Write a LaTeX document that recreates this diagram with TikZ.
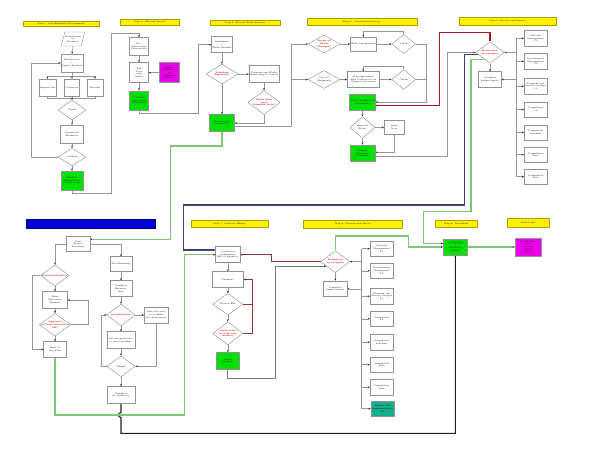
\documentclass[tikz,border=0pt]{standalone}
\usetikzlibrary{shapes.geometric,arrows.meta,calc}
\pgfdeclarelayer{bg}
\pgfsetlayers{bg,main}
\definecolor{gfill}{RGB}{0,225,0}
\definecolor{mfill}{RGB}{235,0,235}
\definecolor{tfill}{RGB}{20,175,140}
\definecolor{yfill}{RGB}{255,240,0}
\definecolor{ydraw}{RGB}{170,160,0}
\definecolor{bbar}{RGB}{0,0,210}
\definecolor{redl}{RGB}{165,20,35}
\definecolor{brl}{RGB}{140,55,50}
\definecolor{dbl}{RGB}{65,65,115}
\definecolor{gbl}{RGB}{120,120,150}
\definecolor{grl}{RGB}{125,200,120}
\definecolor{blk}{RGB}{35,35,35}
\definecolor{bdr}{RGB}{145,145,145}
\definecolor{lnc}{RGB}{150,150,150}
\definecolor{rtx}{RGB}{190,0,0}
\tikzset{
  ln/.style={draw=lnc, line width=0.55pt},
  arr/.style={ln, -{Stealth[length=2.2pt,width=1.8pt,color=blk]}},
  tx/.style={font=\fontsize{2.2}{2.6}\selectfont, align=center, inner sep=0.4pt},
  rtxt/.style={tx, text=rtx, font=\fontsize{2.2}{2.6}\selectfont\bfseries},
  bx/.style={tx, rectangle, draw=bdr, fill=white, line width=0.45pt},
  gbx/.style={bx, fill=gfill},
  dmd/.style={diamond, draw=bdr, fill=white, line width=0.45pt, inner sep=0pt},
  lab/.style={tx, rectangle, draw=ydraw, fill=yfill, line width=0.4pt},
  sz/.style 2 args={minimum width=#1pt, minimum height=#2pt},
  cl/.style={arr, line width=1.1pt},
}
\newcommand{\Dnode}[6]{\node[dmd, sz={#3}{#4}] (#1) at (#2) {}; \node[#5] (#1t) at (#1.center) {#6};}
\begin{document}
\begin{tikzpicture}[x=1pt,y=-1pt]
\useasboundingbox (0,0) rectangle (600,452);

% ---------------- Step 1
\node[lab, sz={76}{5.5}] (s1) at (61,23.5) {Step 1: Cost Estimate Development};
\node[tx, trapezium, trapezium left angle=65, trapezium right angle=115, trapezium stretches=true, draw=bdr, fill=white, line width=0.45pt, sz={22}{14}] (p1) at (73,39) {Information\\in\\Database};
\node[bx, sz={21}{18}] (b1) at (72,63) {Information\\+\\Report Analysis};
\node[bx, sz={17}{17}] (b1a) at (47.5,87.5) {Inspections};
\node[bx, sz={15}{17}] (b1b) at (72,87.5) {Contracts};
\node[bx, sz={16}{17}] (b1c) at (95,87.5) {Records};
\Dnode{d1}{72,110}{28}{20}{tx}{Check}
\node[bx, sz={23}{18}] (b1d) at (72,134) {Formulate\\Estimates};
\Dnode{d1b}{72,157}{28}{18}{tx}{Confirm}
\node[gbx, sz={22}{19}] (g1) at (72,180.5) {Finalize\\Estimate of\\Project Costs};

% ---------------- Step 2
\node[lab, sz={59}{6}] (s2) at (149.5,22.3) {Step 2: Bid and Award};
\node[bx, sz={19}{18}] (b2a) at (139,46.5) {Pre-\\Advertising\\Preparation};
\node[bx, sz={19}{20}] (b2b) at (139,72.7) {Bid\\Price\\and\\Award};
\node[bx, fill=mfill, sz={20}{20}] (m2) at (169,72.7) {Bidder\\Qualification\\and\\Compliance\\Review};
\node[gbx, sz={19}{19}] (g2) at (139,100.3) {Contract\\Award and\\NTP Issued};

% ---------------- Step 3
\node[lab, sz={70}{5.5}] (s3) at (245,22.7) {Step 3: Review Work Analysis};
\node[bx, sz={21}{16}] (b3a) at (222,44.7) {Agreement\\+\\Work Schedule};
\Dnode{d3a}{222,74}{32}{20}{rtxt}{Schedule\\Approved?}
\node[bx, sz={27}{17}] (b3b) at (264,74) {Construction Works\\Monitoring \& Control};
\Dnode{d3b}{264,102.5}{32}{24}{rtxt}{Work done\\per\\Schedule Date?}
\node[gbx, sz={25}{17}] (g3) at (222,123) {Construction\\Completed};

% ---------------- Step 4
\node[lab, sz={110}{7}] (s4) at (361.7,22) {Step 4: Construction Survey};
\Dnode{d4a}{324,44}{32}{18}{rtxt}{Scope of\\Work\\Changed?}
\node[bx, sz={23}{14}] (b4a) at (363.3,44) {Work Arrangement};
\Dnode{d4a2}{403.7,44}{24}{19}{tx}{Check}
\Dnode{d4b}{324,79.5}{32}{18}{rtxt}{Use of\\Materials}
\node[bx, sz={32}{15.6}] (b4b) at (363.3,79.5) {Plan Agreement\\with Contractor for\\Claims \& Overruns};
\Dnode{d4b2}{403.7,79.5}{24}{20}{tx}{Check}
\node[gbx, sz={26}{16}] (g4c) at (362.5,102) {Verify all Required\\Documents};
\Dnode{d4d}{362.5,127.5}{25}{21.6}{tx}{Approval\\Given?}
\node[bx, sz={20}{14}] (b4d) at (394.3,127.5) {Issue\\Note};
\node[gbx, sz={25}{16.7}] (g4e) at (362.5,153.3) {Submit\\Required\\Documents};

% ---------------- Step 5
\node[lab, sz={97}{8}] (s5) at (507.2,21.2) {Step 5: Review and Survey};
\Dnode{d5}{490,52.5}{28.4}{21.6}{rtxt}{Evaluation\\by category}
\node[bx, sz={22.7}{15.6}] (b5g) at (490,79.5) {Complete\\budget report};
\node[bx, sz={23}{15.5}] (r51) at (535.8,38.3) {Material\\Management\\1.1};
\node[bx, sz={23}{15.5}] (r52) at (535.8,61.3) {Procurement\\Management\\1.2};
\node[bx, sz={23}{15.5}] (r53) at (535.8,86.2) {Payment and\\Service Charges\\1.3};
\node[bx, sz={23}{15.5}] (r54) at (535.8,109.5) {Completion\\1.4};
\node[bx, sz={23}{15.5}] (r55) at (535.8,132.5) {Completion\\Schedule};
\node[bx, sz={23}{15.5}] (r56) at (535.8,154.7) {Completion\\Rate};
\node[bx, sz={23}{15.5}] (r57) at (535.8,176.7) {Completion\\Date};

% ---------------- Step 6
\node[lab, sz={99}{8}] (s6) at (353,224.2) {Step 6: Review and Survey};
\Dnode{d6}{335.3,261.7}{29}{22}{rtxt}{Evaluation\\by category}
\node[bx, sz={23.3}{15.7}] (b6i) at (335.3,288.8) {Complete\\budget report};
\node[bx, sz={23.3}{15.7}] (r61) at (381.7,248.7) {Material\\Management\\2.1};
\node[bx, sz={23.3}{15.7}] (r62) at (381.7,270.8) {Procurement\\Management\\2.2};
\node[bx, sz={23.3}{15.7}] (r63) at (381.7,296.2) {Payment and\\Service Charges\\2.3};
\node[bx, sz={23.3}{15.7}] (r64) at (381.7,318.8) {Completion\\2.4};
\node[bx, sz={23.3}{15.7}] (r65) at (381.7,342.2) {Completion\\Schedule};
\node[bx, sz={23.3}{15.7}] (r66) at (381.7,364.7) {Completion\\Rate};
\node[bx, sz={23.3}{15.7}] (r67) at (381.7,387.2) {Completion\\Date};
\node[bx, fill=tfill, sz={23.3}{15.7}] (r68) at (382.5,408.7) {Budget and\\Implementation\\2.5};

% ---------------- Step 7
\node[lab, sz={77.6}{7.3}] (s7) at (229.5,223.7) {Step 7: Contract Billing};
\node[bx, sz={24.3}{16}] (b7a) at (227.8,254.7) {Contractor\\Submission\\Bill of Quantity};
\node[bx, sz={31}{15.6}] (b7b) at (227.8,279.5) {Payment};
\Dnode{d7c}{227.8,304.2}{30}{21.7}{tx}{Review Bill}
\Dnode{d7d}{227.8,333.3}{30}{23.3}{rtxt}{Verification\\by Contract\\Auditor}
\node[gbx, sz={23}{16.3}] (g7) at (227.8,360.8) {Final\\Payment};

% ---------------- Step 8 / 9
\node[lab, sz={42.7}{7.7}] (s8) at (456.3,223.8) {Step 8: Settlement};
\node[gbx, sz={24}{15.7}] (g8) at (455.3,247) {Completion\\\&\\Financial\\Report};
\node[lab, sz={42}{8.4}] (s9) at (528.3,222.5) {Step 9: QC};
\node[bx, fill=mfill, sz={26}{18}] (m9) at (528,247) {Evaluation\\of\\Project\\Final\\Report};

% ---------------- Bottom left
\node[rectangle, fill=bbar, draw=bbar!70!black, line width=0.4pt, sz={129}{9}] (bar) at (90.5,223.8) {};
\node[bx, sz={23.3}{15}] (bS) at (78.3,244.2) {Start\\Project\\Initiation};
\Dnode{dK}{55,275.5}{28.6}{21}{rtxt}{Fund Availability}
\node[bx, sz={25}{16.7}] (bL) at (55,300) {Fund\\Allocation\\Request};
\Dnode{dM}{55,324.7}{31.4}{22.7}{rtxt}{Approval\\of Fund Allocation\\OK?}
\node[bx, sz={22.7}{15.6}] (bN) at (55,349.5) {Issue of\\Pay Plan};
\node[bx, sz={21.7}{15}] (bT) at (121,264.2) {Pre-Tendering};
\node[bx, sz={21.7}{16}] (bU) at (121,288.7) {Complete\\Estimate\\Data};
\Dnode{dV}{121,315}{28.3}{22}{rtxt}{Completeness}
\node[bx, sz={24}{16}] (bW) at (156.3,315) {with site visit\\to confirm\\site description};
\node[bx, sz={27.7}{16.7}] (bX) at (121,340) {fill out quantities\\to meet deadline};
\Dnode{dY}{121,366.3}{28.3}{20.7}{rtxt}{Check}
\node[bx, sz={28.3}{16.7}] (bZ) at (121,395) {Complete\\the Quantity};

% ================= connectors
\begin{pgfonlayer}{bg}
\fill[white] (0,0) rectangle (600,452);
% step 1
\draw[arr] (p1.south) -- (b1.north);
\draw[arr] (b1.south) -- (b1b.north);
\coordinate (j1) at (72,76);
\coordinate (j2) at (72,98);
\draw[arr] (j1) -| (b1a.north);
\draw[arr] (j1) -| (b1c.north);
\draw[ln] (b1a.south) |- (j2);
\draw[ln] (b1c.south) |- (j2);
\draw[arr] (b1b.south) -- (d1.north);
\draw[arr] (d1.south) -- (b1d.north);
\draw[arr] (b1d.south) -- (d1b.north);
\draw[arr] (d1b.south) -- (g1.north);
\draw[arr] (d1b.west) -- (31,157) |- (b1.west);
\draw[arr] (g1.south) -- (72,193) -| (111,33) -| (b2a.north);
% step 2
\draw[arr] (b2a.south) -- (b2b.north);
\draw[arr] (m2.west) -- (b2b.east);
\draw[arr] (b2b.south) -- (g2.north);
\draw[arr] (g2.south) -- (139,113.3) -| (198.3,44.7) -- (b3a.west);
% step 3
\draw[arr] (b3a.south) -- (d3a.north);
\draw[arr] (d3a.east) -- (b3b.west);
\draw[arr] (b3b.south) -- (d3b.north);
\draw[arr] (d3a.south) -- (g3.north);
\draw[arr] (d3b.south) |- (g3.east);
\draw[ln] ([yshift=-3.5pt]g3.east) -- (291.7,126.5) -- (291.7,44);
\draw[arr] (291.7,44) -- (d4a.west);
\draw[arr] (291.7,79.5) -- (d4b.west);
\draw[cl, draw=grl] (g3.south) -- (222,146) -| (170.7,239.3) -- ([yshift=4.9pt]bS.east);
% step 4
\draw[arr] (d4a.east) -- (b4a.west);
\draw[arr] (b4a.east) -- (d4a2.west);
\draw[arr] (d4a2.north) |- (363.3,31.7) -- (b4a.north);
\draw[arr] (d4b.east) -- (b4b.west);
\draw[arr] (b4b.east) -- (d4b2.west);
\draw[arr] (d4b2.north) |- (363.3,66.7) -- (b4b.north);
\draw[arr] (d4a2.east) -- (426.7,44) |- (g4c.east);
\draw[ln] (d4b2.east) -- (426.7,79.5);
\draw[arr] (g4c.south) -- (d4d.north);
\draw[arr] (d4d.east) -- (b4d.west);
\draw[arr] (d4d.south) -- (g4e.north);
\draw[arr] (b4d.south) |- ([yshift=1pt]g4e.east);
\draw[arr] ([yshift=-3.4pt]g4e.east) -| (447.3,52.5) -- (d5.west);
\draw[cl, draw=redl] (d5.north) |- (439.3,32.7) |- ([yshift=-3.5pt]g4c.east);
% step 5
\draw[arr] (d5.south) -- (b5g.north);
\draw[ln] (516,38.3) -- (516,176.7);
\draw[arr] (516,38.3) -- (r51.west);
\draw[arr] (516,61.3) -- (r52.west);
\draw[arr] (516,86.2) -- (r53.west);
\draw[arr] (516,109.5) -- (r54.west);
\draw[arr] (516,132.5) -- (r55.west);
\draw[arr] (516,154.7) -- (r56.west);
\draw[arr] (516,176.7) -- (r57.west);
\draw[arr] (516,52.5) -- (d5.east);
\draw[arr] (516,79.5) -- (b5g.east);
\draw[cl, draw=dbl] (d5.190) -| (464.3,205) -| (183.3,250) -- ([yshift=4.7pt]b7a.west);
\draw[cl, draw=grl] (d5.232) -| (471,211.7) -| (423.3,243.5) -- ([yshift=3.5pt]g8.west);
% step 6
\draw[arr] (d6.south) -- (b6i.north);
\draw[ln] (361.7,248.7) -- (361.7,408.7);
\draw[arr] (361.7,248.7) -- (r61.west);
\draw[arr] (361.7,270.8) -- (r62.west);
\draw[arr] (361.7,296.2) -- (r63.west);
\draw[arr] (361.7,318.8) -- (r64.west);
\draw[arr] (361.7,342.2) -- (r65.west);
\draw[arr] (361.7,364.7) -- (r66.west);
\draw[arr] (361.7,387.2) -- (r67.west);
\draw[arr] (361.7,408.7) -- (r68.west);
\draw[arr] (361.7,261.7) -- (d6.east);
\draw[arr] (361.7,288.8) -- (b6i.east);
\draw[cl, draw=brl, line width=0.9pt] (d6.west) -| (271.7,254.7) -- (b7a.east);
\draw[arr, draw=gbl, line width=0.7pt] (g7.south) |- (275.7,378.3) |- (d6.206);
\draw[cl, draw=grl] (d6.north) |- (408.3,236) |- (g8.west);
% step 7
\draw[arr] (b7a.south) -- (b7b.north);
\draw[arr] (b7b.south) -- (d7c.north);
\draw[arr] (d7c.south) -- (d7d.north);
\draw[arr] (d7d.south) -- (g7.north);
\draw[cl, draw=brl, line width=0.8pt] (d7d.east) -| (252.7,279.5) -- (b7b.east);
\draw[draw=brl, line width=0.8pt] (d7c.east) -- (252.7,304.2);
% step 8
\draw[cl, draw=grl] (g8.east) -- (m9.west);
\draw[cl, draw=blk] (bZ.south) -- (121,412.5) .. controls (117.5,413) and (117.5,417) .. (121,417.5) -- (121,433.3) -| (g8.south);
% bottom left
\draw[arr] (bS.west) -| (dK.north);
\draw[arr] (bS.east) -| (bT.north);
\draw[arr] (dK.south) -- (bL.north);
\draw[arr] (bL.south) -- (dM.north);
\draw[arr] (dM.south) -- (bN.north);
\draw[arr] (dM.east) -- (88.3,324.7) |- (bL.east);
\draw[arr] (dK.west) -- (32.7,275.5) |- (bN.west);
\draw[cl, draw=grl] (bN.south) |- (184.5,415) |- (b7a.west);
\draw[arr] (bT.south) -- (bU.north);
\draw[arr] (bU.south) -- (dV.north);
\draw[arr] (dV.east) -- (bW.west);
\draw[arr] (dV.south) -- (bX.north);
\draw[arr] (bX.south) -- (dY.north);
\draw[arr] (dY.south) -- (bZ.north);
\draw[arr] (bW.south) |- (dY.east);
\draw[arr] (dY.west) -- (101.7,366.3) |- (dV.west);
\end{pgfonlayer}
\end{tikzpicture}
\end{document}
